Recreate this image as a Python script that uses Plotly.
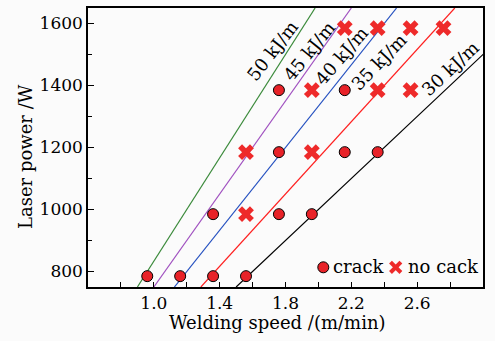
import plotly.graph_objects as go

# ---- data ----
line_energy = [30, 35, 40, 45, 50]            # kJ/m
line_colors = ["#000000", "#ff2020", "#2450c0", "#a050c0", "#3a8a3a"]
line_labels = ["30 kJ/m", "35 kJ/m", "40 kJ/m", "45 kJ/m", "50 kJ/m"]
label_x = [2.80, 2.37, 2.14, 1.94, 1.72]
label_y = [1456, 1477, 1498, 1511, 1514]
label_angle = [-43, -46, -49, -51, -52]

crack_speed = [0.96, 1.16, 1.36, 1.56, 1.36, 1.76, 1.96, 1.76, 2.16, 2.36, 1.76, 2.16]
crack_power = [785, 785, 785, 785, 985, 985, 985, 1185, 1185, 1185, 1385, 1385]

nocrack_speed = [1.56, 1.56, 1.96, 1.96, 2.36, 2.56, 2.16, 2.36, 2.56, 2.76]
nocrack_power = [985, 1185, 1185, 1385, 1385, 1385, 1585, 1585, 1585, 1585]

legend_names = ["crack", "no cack"]

x_range = [0.6, 3.0]
y_range = [750, 1650]
x_ticks = [1.0, 1.4, 1.8, 2.2, 2.6]
x_minor = [0.8, 1.2, 1.6, 2.0, 2.4, 2.8]
y_ticks = [800, 1000, 1200, 1400, 1600]
y_minor = [900, 1100, 1300, 1500]

FONT = "DejaVu Serif"
CRACK_RED = "#e82228"
X_RED = "#ee2a2a"

W, H = 495, 341
ML, MR, MT, MB = 88, 12, 8, 54
PW, PH = W - ML - MR, H - MT - MB


def px(x):
    return (x - ML) / PW


def py(y):
    return (H - MB - y) / PH


fig = go.Figure()

# iso-line-energy lines: P[W] = E[kJ/m] * v[m/min] * 1000 / 60
for E, c in zip(line_energy, line_colors):
    p = list(y_range)
    v = [pp * 60 / (E * 1000) for pp in p]
    fig.add_trace(go.Scatter(x=v, y=p, mode="lines", line=dict(color=c, width=1.2),
                             showlegend=False, hoverinfo="skip"))

fig.add_trace(go.Scatter(x=crack_speed, y=crack_power, mode="markers", name=legend_names[0],
                         showlegend=False,
                         marker=dict(symbol="circle", size=11, color=CRACK_RED,
                                     line=dict(color="#000000", width=1))))
fig.add_trace(go.Scatter(x=nocrack_speed, y=nocrack_power, mode="markers", name=legend_names[1],
                         showlegend=False,
                         marker=dict(symbol="x", size=14, color=X_RED,
                                     line=dict(width=0))))

for t, x, y, a in zip(line_labels, label_x, label_y, label_angle):
    fig.add_annotation(x=x, y=y, text=t, textangle=a, showarrow=False,
                       font=dict(family=FONT, size=18, color="#000000"))

# axis titles
fig.add_annotation(xref="paper", yref="paper", x=px(277), y=py(323),
                   xanchor="center", yanchor="middle",
                   text="Welding speed /(m/min)", showarrow=False,
                   font=dict(family=FONT, size=18, color="#000000"))
fig.add_annotation(xref="paper", yref="paper", x=px(25), y=py(157), textangle=-90,
                   xanchor="center", yanchor="middle",
                   text="Laser power /W", showarrow=False,
                   font=dict(family=FONT, size=18, color="#000000"))

# legend (drawn manually to match compact spacing)
cx, cy, r = 323.3, 267.3, 5.5
fig.add_shape(type="circle", xref="paper", yref="paper",
              x0=px(cx - r), x1=px(cx + r), y0=py(cy + r), y1=py(cy - r),
              fillcolor=CRACK_RED, line=dict(color="#000", width=1))
fig.add_annotation(xref="paper", yref="paper", x=px(331), y=py(266), xanchor="left",
                   yanchor="middle", text=legend_names[0], showarrow=False,
                   font=dict(family=FONT, size=18, color="#000"))
kx, ky, k = 395.7, 267.3, 5.2
for (x0, y0, x1, y1) in [(kx - k, ky - k, kx + k, ky + k), (kx - k, ky + k, kx + k, ky - k)]:
    fig.add_shape(type="line", xref="paper", yref="paper",
                  x0=px(x0), y0=py(y0), x1=px(x1), y1=py(y1),
                  line=dict(color=X_RED, width=4))
fig.add_annotation(xref="paper", yref="paper", x=px(406), y=py(266), xanchor="left",
                   yanchor="middle", text=legend_names[1], showarrow=False,
                   font=dict(family=FONT, size=18, color="#000"))

fig.update_xaxes(range=x_range, tickvals=x_ticks, ticktext=[f"{v:.1f}" for v in x_ticks],
                 ticks="inside", ticklen=5, tickwidth=1.2, tickcolor="#000",
                 minor=dict(tickvals=x_minor, ticks="inside", ticklen=5, tickwidth=1.2, tickcolor="#000"),
                 showline=True, linecolor="#000", linewidth=1.5, mirror=True,
                 showgrid=False, zeroline=False,
                 tickfont=dict(family=FONT, size=17, color="#000"))
fig.update_yaxes(range=y_range, tickvals=y_ticks,
                 ticks="inside", ticklen=6, tickwidth=1.2, tickcolor="#000",
                 minor=dict(tickvals=y_minor, ticks="inside", ticklen=4, tickwidth=1.2, tickcolor="#000"),
                 showline=True, linecolor="#000", linewidth=1.5, mirror=True,
                 showgrid=False, zeroline=False,
                 tickfont=dict(family=FONT, size=17, color="#000"))

fig.update_layout(
    width=W, height=H,
    margin=dict(l=ML, r=MR, t=MT, b=MB, autoexpand=False),
    paper_bgcolor="#fbfbfb", plot_bgcolor="#fbfbfb",
    showlegend=False,
)

fig.write_html("out.html", config={"displayModeBar": False},
               post_script="document.body.style.margin='0';document.body.style.padding='0';")
